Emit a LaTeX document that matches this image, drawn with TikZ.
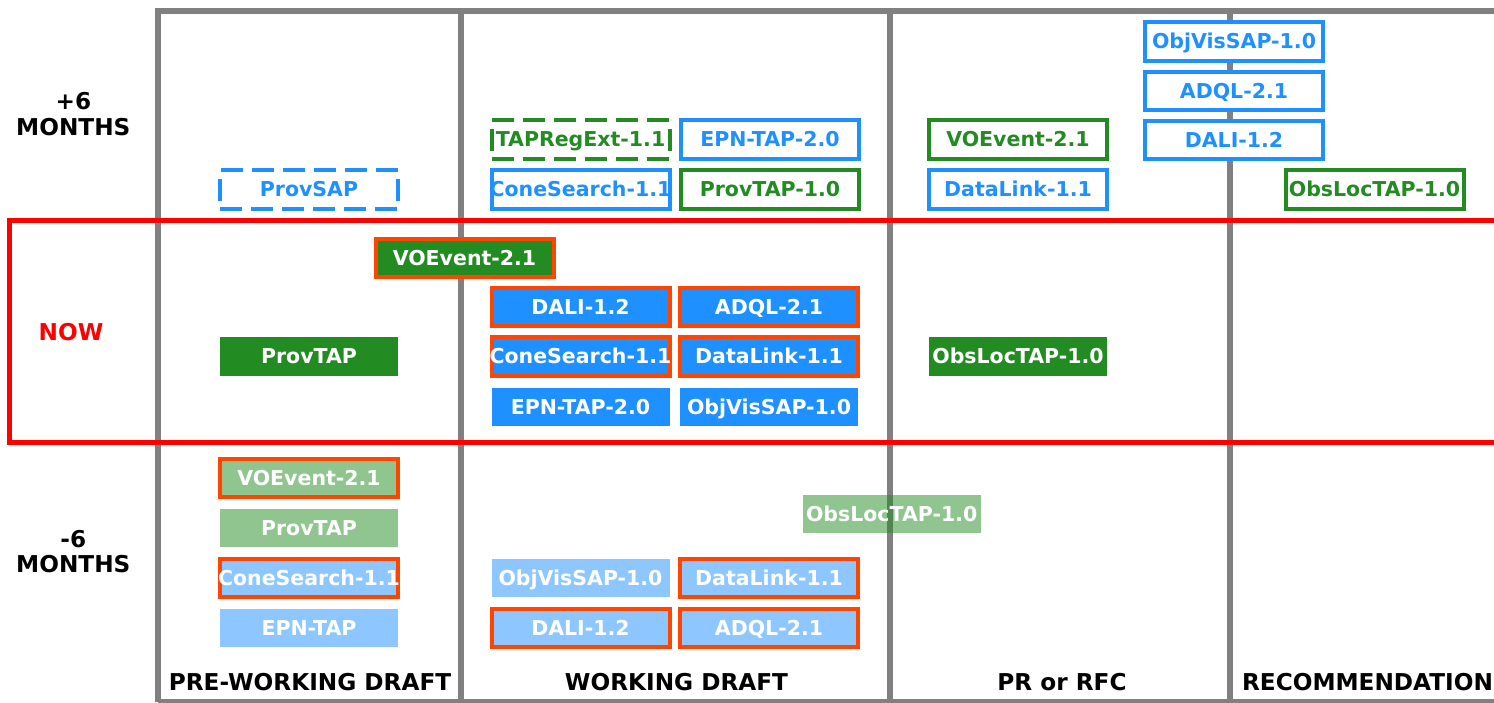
\documentclass[tikz,border=0pt]{standalone}
\usepackage{fontspec}
\setmainfont{DejaVu Sans}
\newcommand\bxfont{\fontsize{20.5}{24}\selectfont\bfseries}
\newcommand\lbfont{\fontsize{23.2}{27}\selectfont\bfseries}
\definecolor{dblue}{HTML}{1E90FF}
\definecolor{fgreen}{HTML}{228B22}
\definecolor{ored}{HTML}{FF4500}
\definecolor{fgray}{HTML}{808080}
\definecolor{nowred}{HTML}{FF0000}
\tikzset{
  frameline/.style={draw=fgray, line width=6pt},
  nowbox/.style={draw=nowred, line width=5pt},
  box/.style={rectangle, minimum width=178pt, minimum height=38.5pt, inner sep=0pt,
    font=\bxfont, text height=14.9pt, text depth=0pt, line width=4pt},
  solidB/.style={box, fill=dblue, text=white},
  solidG/.style={box, fill=fgreen, text=white},
  lightB/.style={box, fill=dblue, fill opacity=0.5, text opacity=1, draw opacity=1, text=white},
  lightG/.style={box, fill=fgreen, fill opacity=0.5, text opacity=1, draw opacity=1, text=white},
  hot/.style={draw=ored},
  openB/.style={box, draw=dblue, fill=white, text=dblue},
  openG/.style={box, draw=fgreen, fill=white, text=fgreen},
  dashbox/.style={dash pattern=on 22pt off 9pt},
  lbl/.style={font=\lbfont, anchor=base, inner sep=0pt, text=black},
}
\newcommand\bt[1]{\makebox[0pt][c]{#1}}
\begin{document}
\begin{tikzpicture}[x=1pt,y=-1pt]
\useasboundingbox (0,0) rectangle (1494,702);
% frame and columns
\draw[frameline] (158.3,702) -- (158.3,10.5) -- (1510,10.5);
\draw[frameline] (158.3,702) -- (1510,702);
\draw[frameline] (461,10.5) -- (461,702);
\draw[frameline] (890,10.5) -- (890,702);
\draw[frameline] (1230,10.5) -- (1230,702);
% NOW band
\draw[nowbox] (1510,220.8) -- (9.2,220.8) -- (9.2,442.5) -- (1510,442.5);

% row labels
\node[lbl] (p6) at (73.5,109.3) {+6};
\node[lbl] (p6m) at (73.3,135.2) {MONTHS};
\node[lbl, text=nowred] (now) at (71,340.5) {NOW};
\node[lbl] (m6) at (73.3,547.2) {-6};
\node[lbl] (m6m) at (73.3,572.8) {MONTHS};

% column labels
\node[lbl] (cpwd) at (310,690) {PRE-WORKING DRAFT};
\node[lbl] (cwd) at (676.5,690) {WORKING DRAFT};
\node[lbl] (cpr) at (1062,690) {PR or RFC};
\node[lbl] (crec) at (1367.5,690) {RECOMMENDATION};

% +6 months
\node[openB] (fObjVis) at (1234,41.5) {\bt{ObjVisSAP-1.0}};
\node[openB] (fADQL) at (1234,90.8) {\bt{ADQL-2.1}};
\node[openB] (fDALI) at (1234,140) {\bt{DALI-1.2}};
\node[openG] (fObsLoc) at (1374.5,189.5) {\bt{ObsLocTAP-1.0}};
\node[openG] (fVOEvent) at (1018,139.3) {\bt{VOEvent-2.1}};
\node[openB] (fDataLink) at (1018,189.3) {\bt{DataLink-1.1}};
\node[openG, dashbox] (fTAPReg) at (580.5,139.3) {\bt{TAPRegExt-1.1}};
\node[openB] (fEPN) at (770,139.3) {\bt{EPN-TAP-2.0}};
\node[openB] (fCone) at (580.5,189.3) {\bt{ConeSearch-1.1}};
\node[openG] (fProvTAP) at (770,189.3) {\bt{ProvTAP-1.0}};
\node[openB, dashbox] (fProvSAP) at (309,189.3) {\bt{ProvSAP}};

% NOW
\node[solidG, hot] (nVOEvent) at (464.5,258) {\bt{VOEvent-2.1}};
\node[solidB, hot] (nDALI) at (580.5,307) {\bt{DALI-1.2}};
\node[solidB, hot] (nADQL) at (769,307) {\bt{ADQL-2.1}};
\node[solidB, hot] (nCone) at (580.5,356.3) {\bt{ConeSearch-1.1}};
\node[solidB, hot] (nDataLink) at (769,356.3) {\bt{DataLink-1.1}};
\node[solidB] (nEPN) at (580.5,407) {\bt{EPN-TAP-2.0}};
\node[solidB] (nObjVis) at (769,407) {\bt{ObjVisSAP-1.0}};
\node[solidG] (nProvTAP) at (309,356.3) {\bt{ProvTAP}};
\node[solidG] (nObsLoc) at (1018,356.3) {\bt{ObsLocTAP-1.0}};

% -6 months
\node[lightG, hot] (pVOEvent) at (309,478) {\bt{VOEvent-2.1}};
\node[lightG] (pProvTAP) at (309,528) {\bt{ProvTAP}};
\node[lightB, hot] (pCone) at (309,578) {\bt{ConeSearch-1.1}};
\node[lightB] (pEPN) at (309,628) {\bt{EPN-TAP}};
\node[lightG] (pObsLoc) at (891.7,514) {\bt{ObsLocTAP-1.0}};
\node[lightB] (pObjVis) at (580.5,578) {\bt{ObjVisSAP-1.0}};
\node[lightB, hot] (pDataLink) at (769,578) {\bt{DataLink-1.1}};
\node[lightB, hot] (pDALI) at (580.5,628) {\bt{DALI-1.2}};
\node[lightB, hot] (pADQL) at (769,628) {\bt{ADQL-2.1}};
\end{tikzpicture}
\end{document}
